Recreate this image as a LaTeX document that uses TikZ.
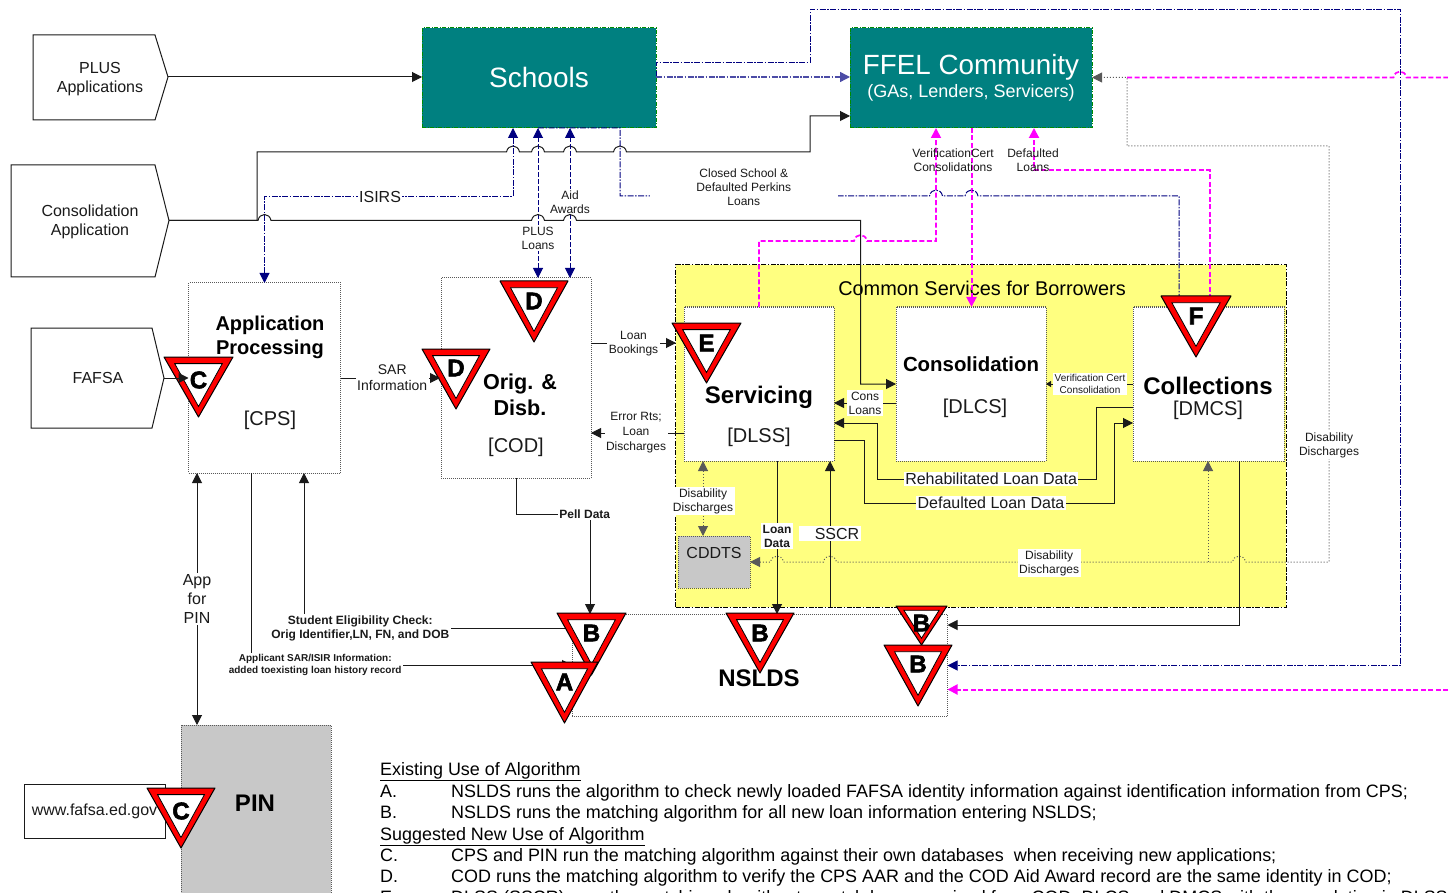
\documentclass[tikz,border=0pt]{standalone}
\usepackage{fontspec}
\setmainfont{Liberation Sans}
\newfontfamily\signfont[BoldFeatures={FakeBold=2.5}]{Liberation Sans}
\usepackage{tikz}
\usetikzlibrary{arrows.meta}
\definecolor{ink}{HTML}{1A1A1A}
\definecolor{navy}{HTML}{000080}
\definecolor{hotpink}{HTML}{FF00FF}
\definecolor{teal8}{HTML}{008080}
\definecolor{paleyellow}{HTML}{FFFF80}
\definecolor{softgrey}{HTML}{C8C8C8}
\definecolor{dotgrey}{HTML}{595959}
% a horizontal line hopping over a crossing one, always drawn left to right
\newcommand{\hop}[2]{-- (#1-6.5,#2) .. controls (#1-5,#2-8) and (#1+5,#2-8) .. (#1+6.5,#2)}
% yield sign: name, left, right, top, apex, letter y, letter
\newcommand{\yieldsign}[7]{%
  \draw[draw=black, fill=red, line width=1pt, line join=round] (#2,#4) -- (#3,#4) -- ({(#2+#3)/2},#5) -- cycle;
  \draw[draw=black, fill=white, line width=0.8pt]
    ({#2+0.155*(#3-#2)},{#4+0.11*(#5-#4)}) -- ({#3-0.155*(#3-#2)},{#4+0.11*(#5-#4)})
    -- ({(#2+#3)/2},{#5-0.175*(#5-#4)}) -- cycle;
  \node[signtxt] (#1) at ({(#2+#3)/2},#6) {#7};}

\begin{document}
\begin{tikzpicture}[
    x=1pt, y=-1pt,
    boxed/.style={draw=dotgrey, dash pattern=on 1pt off 1pt, line width=1pt, fill=white, outer sep=0pt, inner sep=0pt},
    greybox/.style={boxed, fill=softgrey},
    tealbox/.style={draw=green!55!black, dash pattern=on 4pt off 1.5pt on 1pt off 1.5pt, line width=1pt, fill=teal8,
                    text=white, align=center, outer sep=0pt, inner sep=0pt},
    pent/.style={draw=ink, line width=1pt, fill=white},
    wire/.style={draw=ink, line width=1pt},
    navyline/.style={draw=navy, line width=1pt, dash pattern=on 6pt off 1.5pt on 1.5pt off 1.5pt},
    navydash/.style={draw=navy, line width=1pt, dash pattern=on 5pt off 2pt},
    magline/.style={draw=hotpink, line width=1.7pt, dash pattern=on 5pt off 2.5pt},
    magheavy/.style={magline, line width=2pt},
    dotline/.style={draw=dotgrey, line width=1pt, dash pattern=on 1pt off 2pt},
    flow/.style={-{Triangle[length=10pt,width=10pt]}},
    flowboth/.style={{Triangle[length=10pt,width=10pt]}-{Triangle[length=10pt,width=10pt]}},
    txt/.style={font=\fontsize{12}{14}\selectfont, text=ink, align=center, inner sep=1pt},
    lbl/.style={txt, fill=white, inner sep=1.5pt},
    mid/.style={txt, font=\fontsize{16}{19}\selectfont},
    head/.style={txt, font=\fontsize{20}{24}\selectfont\bfseries, text=black},
    bighead/.style={head, font=\fontsize{24}{28}\selectfont\bfseries},
    code/.style={txt, font=\fontsize{20}{24}\selectfont},
    signtxt/.style={font=\fontsize{24}{24}\selectfont\signfont\bfseries, text=black, inner sep=0pt},
    note/.style={font=\fontsize{17.95}{21}\selectfont, text=black, anchor=base west, inner sep=0pt},
  ]
  \path[use as bounding box, fill=white] (0,0) rectangle (1448,893);

  % common services area comes first, everything else sits on it
  \node[draw=black, fill=paleyellow, dash pattern=on 5pt off 1.5pt on 1.5pt off 1.5pt, line width=1pt, outer sep=0pt,
        minimum width=610.5pt, minimum height=342pt] (common) at (980.75,436) {};
  \node[txt, font=\fontsize{19.9}{24}\selectfont, text=black] (commontxt) at (982,288) {Common Services for Borrowers};

  \node[tealbox, minimum width=234pt, minimum height=100pt, font=\fontsize{28}{32}\selectfont] (schools) at (539,78) {\raisebox{2pt}{Schools}};
  \node[tealbox, minimum width=242pt, minimum height=100pt] (ffel) at (971,78)
    {\raisebox{-2pt}{\fontsize{27.8}{32}\selectfont FFEL Community}\\[3pt]\raisebox{-2pt}{\fontsize{18}{22}\selectfont (GAs, Lenders, Servicers)}};

  \draw[pent] (33,35) -- (155,35) -- (168,77) coordinate (plustip) -- (155,120) -- (33,120) -- cycle;
  \node[mid] (plus) at (100,79) {PLUS\\Applications};
  \draw[pent] (11,165) -- (155,165) -- (169,220.5) coordinate (constip) -- (155,277) -- (11,277) -- cycle;
  \node[mid] (consapp) at (90,222) {Consolidation\\Application};
  \draw[pent] (31,328) -- (152,328) -- (164,378) coordinate (fafsatip) -- (152,428) -- (31,428) -- cycle;
  \node[mid] (fafsa) at (98,378) {FAFSA};

  \node[boxed, minimum width=152pt, minimum height=190pt] (cps) at (264.5,378) {};
  \node[boxed, minimum width=150pt, minimum height=200pt] (cod) at (516,378) {};
  \node[boxed, minimum width=150pt, minimum height=154pt] (dlss) at (759,384) {};
  \node[boxed, minimum width=150pt, minimum height=154pt] (dlcs) at (971,384) {};
  \node[boxed, minimum width=151pt, minimum height=154pt] (dmcs) at (1208.5,384) {};
  \node[greybox, minimum width=72pt, minimum height=52pt] (cddts) at (714,562) {};
  \node[boxed, minimum width=375.5pt, minimum height=102pt] (nslds) at (759.75,665) {};
  \node[greybox, minimum width=150pt, minimum height=200pt] (pin) at (256,825) {};
  \node[draw=ink, fill=white, line width=1pt, outer sep=0pt, minimum width=141pt, minimum height=54pt,
        font=\fontsize{16}{19}\selectfont, text=ink] (www) at (94.5,811) {www.fafsa.ed.gov};

  \node[head] (cpstxt) at (270,337) {Application\\Processing};
  \node[code] (cpscode) at (270,420) {[CPS]};
  \node[head, font=\fontsize{21.6}{26}\selectfont\bfseries] (codtxt) at (520,395) {Orig. \&\\Disb.};
  \node[code] (codcode) at (516,447) {[COD]};
  \node[bighead] (dlsstxt) at (759,397) {Servicing};
  \node[code] (dlsscode) at (759,437) {[DLSS]};
  \node[head, font=\fontsize{20.4}{24}\selectfont\bfseries] (dlcstxt) at (971,364) {Consolidation};
  \node[code] (dlcscode) at (975,408) {[DLCS]};
  \node[bighead] (dmcstxt) at (1208,386) {Collections};
  \node[code] (dmcscode) at (1208,410) {[DMCS]};
  \node[mid] (cddtstxt) at (714,553) {CDDTS};
  \node[bighead] (nsldstxt) at (759,678) {NSLDS};
  \node[bighead] (pintxt) at (255,803) {PIN};

  \coordinate (rimtop) at (1448,77.5);
  \coordinate (rimlow) at (1448,689.5);
  \coordinate (dotjoin) at (1127,77.5);

  % magenta lines run underneath the navy hops
  \draw[magline] (dotjoin) \hop{1400}{77.5} -- (rimtop);
  \draw[magline, flow] (759,0 |- dlss.north) -- (759,241) \hop{860.5}{241} -- (936,241) -- (936,0 |- ffel.south);
  \draw[magheavy, flow] (971.5,0 |- ffel.south) -- (971.5,0 |- dlcs.north);
  \draw[magheavy, flow] (1209.5,0 |- dmcs.north) -- (1209.5,170.5) -- (1034,170.5) -- (1034,0 |- ffel.south);
  \draw[magheavy, flow] (rimlow) -- (nslds.east |- rimlow);
  \node[txt] (verifcert) at (953,160.5) {VerificationCert\\Consolidations};
  \node[txt] (defloans) at (1033,160.5) {Defaulted\\Loans};

  \draw[wire, flow] (plustip) -- (schools.west |- plustip);
  \draw[wire, flow] (constip) -- (257,220.5) -- (257,152) \hop{513}{152} \hop{538}{152} \hop{570}{152} \hop{620}{152}
    -- (810,152) -- (810,116) -- (ffel.west |- 0,116);
  \draw[navyline, flowboth] (264.5,0 |- cps.north) -- (264.5,196.5) -- node[lbl, font=\fontsize{16}{19}\selectfont, pos=.465] (isirs) {ISIRS} (513,196.5) -- (513,0 |- schools.south);
  \draw[navydash, flowboth] (538,0 |- cod.north) -- node[lbl, pos=.267] (plusloans) {PLUS\\Loans} (538,0 |- schools.south);
  \draw[navydash, flowboth] (570,0 |- cod.north) -- node[lbl, pos=.507] (aid) {Aid\\Awards} (570,0 |- schools.south);
  \draw[wire, flow] (constip) -- (258,220.5) \hop{264.5}{220.5} \hop{538}{220.5} \hop{570}{220.5}
    -- (860.5,220.5) -- (860.5,384) -- (dlcs.west |- 0,384);
  \draw[navyline] (538,0 |- schools.south) -- (620,128) -- (620,196)
    -- node[lbl, minimum width=188pt, pos=.4, yshift=9pt] (closed) {Closed School \&\\Defaulted Perkins\\Loans} (929.5,196)
    \hop{936}{196} \hop{971.5}{196} -- (1179,196) -- (1179,0 |- dmcs.north);
  \draw[navyline] (schools.east |- 0,77) -- (656,62.5) -- (810,62.5) -- (810,9.5) -- (1400,9.5) -- (1400,665.5) [flow] -- (nslds.east |- 0,665.5);
  \draw[navy!70, line width=1.4pt, dash pattern=on 6pt off 1.5pt on 1.5pt off 1.5pt, flow] (schools.east |- 0,77) -- (ffel.west |- 0,77);

  % dotted disability discharge loop
  \draw[dotline, flowboth] (cddts.east |- 0,562) \hop{777}{562} \hop{830}{562}
    -- node[lbl, pos=.537, yshift=-1pt] (ddmid) {Disability\\Discharges} (1232.5,562) \hop{1239}{562}
    -- (1329,562) -- node[lbl, pos=.281] (ddright) {Disability\\Discharges} (1329,146) -- (1127,146) -- (dotjoin) -- (ffel.east |- dotjoin);
  \draw[dotline, flow] (1208,562) -- (1208,0 |- dmcs.south);
  \draw[dotline, flowboth] (703,0 |- dlss.south) -- node[lbl, pos=.52, yshift=-1pt] (ddleft) {Disability\\Discharges} (703,0 |- cddts.north);

  \draw[wire, flow] (cod.east |- 0,343) -- node[lbl, yshift=-1pt] (bookings) {Loan\\Bookings} (676,343);
  \draw[wire, flow] (dlss.west |- 0,433) -- node[lbl, pos=.516] (errors) {Error Rts;\\[1pt]Loan\\[1pt]Discharges} (cod.east |- 0,433);
  \draw[wire, flow] (dlcs.west |- 0,403) -- node[lbl] (consloans) {Cons\\Loans} (dlss.east |- 0,403);
  \draw[wire, -{Triangle[length=5pt,width=6pt]}] (dmcs.west |- 0,384) -- node[lbl, pos=.494, font=\fontsize{10}{12}\selectfont] (verifcons) {Verification Cert\\Consolidation} (dlcs.east |- 0,384);
  \draw[wire, flow] (dmcs.west |- 0,407) -- (1096,407) -- (1096,479)
    -- node[lbl, pos=.479, font=\fontsize{16}{19}\selectfont] (rehab) {Rehabilitated Loan Data} (877,479) -- (877,423) -- (dlss.east |- 0,423);
  \draw[wire, flow] (dlss.east |- 0,440.5) -- (864,440.5) -- (864,503)
    -- node[lbl, pos=.508, font=\fontsize{16}{19}\selectfont] (defdata) {Defaulted Loan Data} (1114,503) -- (1114,423) -- (dmcs.west |- 0,423);
  \draw[wire, flow] (777,0 |- dlss.south) -- node[lbl, pos=.49, font=\fontsize{12}{14}\selectfont\bfseries] (loandata) {Loan\\Data} (777,0 |- nslds.north);
  \draw[wire, flow] (830,0 |- common.south) -- node[lbl, pos=.503, minimum width=62pt, font=\fontsize{16}{19}\selectfont] (sscr) {\hspace*{14pt}SSCR} (830,0 |- dlss.south);
  \draw[wire, flow] (1239,0 |- dmcs.south) -- (1239,625) -- (nslds.east |- 0,625);

  \draw[wire, flowboth] (197,0 |- cps.south) -- node[lbl, font=\fontsize{16}{19}\selectfont] (apppin) {App\\for\\PIN} (197,0 |- pin.north);
  \draw[wire, flow] (251,0 |- cps.south) -- (251,665)
    -- node[lbl, pos=.2, font=\fontsize{10}{12}\selectfont\bfseries] (applicant) {Applicant SAR/ISIR Information:\\added toexisting loan history record} (nslds.west |- 0,665);
  \draw[wire, flow] (nslds.west |- 0,628.5)
    -- node[lbl, pos=.79, font=\fontsize{12}{14}\selectfont\bfseries] (eligibility) {Student Eligibility Check:\\Orig Identifier,LN, FN, and DOB} (304,628.5) -- (304,0 |- cps.south);
  \draw[wire, flow] (516,0 |- cod.south) -- (516,514)
    -- node[lbl, pos=.93, font=\fontsize{12}{14}\selectfont\bfseries] (pell) {Pell Data} (590,514) -- (590,0 |- nslds.north);

  \yieldsign{signB}{557}{626}{613}{675}{633}{B}
  \yieldsign{signA}{531}{598}{662}{723}{682}{A}
  \yieldsign{signBmid}{726}{794}{613}{673}{633}{B}
  \yieldsign{signBsmall}{896}{947}{606}{645}{623}{B}
  \yieldsign{signBbig}{884}{952}{645}{706}{664}{B}
  \yieldsign{signCtop}{164}{233}{357}{417}{380}{C}
  \yieldsign{signCpin}{147}{215}{788}{848}{811}{C}
  \yieldsign{signDtop}{500}{568}{281}{342}{301}{D}
  \yieldsign{signDleft}{422}{490}{349}{409}{368}{D}
  \yieldsign{signE}{672}{741}{323}{383}{343}{E}
  \yieldsign{signF}{1161}{1231}{296}{357}{316}{F}

  % these two heads sit on top of the signs
  \draw[wire, flow] (fafsatip) -- (cps.west |- fafsatip);
  \draw[wire, flow] (cps.east |- 0,378) -- node[lbl, pos=.52, font=\fontsize{14}{16}\selectfont] (sar) {SAR\\Information} (440,378);

  \node[note] (useold) at (380,775) {\underline{Existing Use of Algorithm}};
  \node[note] (usenew) at (380,840) {\underline{Suggested New Use of Algorithm}};
  \foreach \tagtxt/\bodytxt/\ypos in {
      A/{NSLDS runs the algorithm to check newly loaded FAFSA identity information against identification information from CPS;}/797,
      B/{NSLDS runs the matching algorithm for all new loan information entering NSLDS;}/818,
      C/{CPS and PIN run the matching algorithm against their own databases\ \ when receiving new applications;}/861,
      D/{COD runs the matching algorithm to verify the CPS AAR and the COD Aid Award record are the same identity in COD;}/882,
      E/{DLSS (SSCR) runs the matching algorithm to match loans received from COD, DLCS and DMCS with the population in DLSS}/903} {
    \node[note] (tag\tagtxt) at (380,\ypos) {\tagtxt.};
    \node[note] (body\tagtxt) at (451,\ypos) {\bodytxt};
  }
\end{tikzpicture}
\end{document}
